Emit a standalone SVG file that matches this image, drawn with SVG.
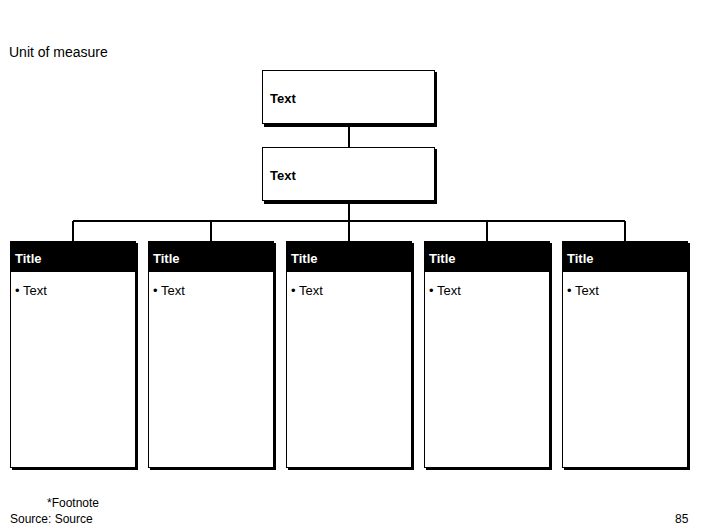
<svg xmlns="http://www.w3.org/2000/svg" width="706" height="529" viewBox="0 0 706 529">
<style>
.b{fill:#fff;stroke:#000;stroke-width:1}
.s{fill:#000}
.t{font-family:"Liberation Sans",Arial,sans-serif;font-size:13px;fill:#000}
.w{font-family:"Liberation Sans",Arial,sans-serif;font-size:13px;font-weight:bold;fill:#fff}
.l{stroke:#000;stroke-width:2;fill:none}
</style>
<rect width="706" height="529" fill="#fff"/>
<text class="t" x="9" y="57" style="font-size:14px">Unit of measure</text>
<g id="connectors">
<path class="l" d="M349 124V147M349 201V221M73 221H625M73 221V241M211 221V241M349 221V241M487 221V241M625 221V241"/>
</g>
<g id="top"><rect class="s" x="264" y="72" width="173" height="55"/><rect class="b" x="262.5" y="70.5" width="172" height="53"/><text class="t" x="270" y="103" font-weight="bold">Text</text></g>
<g id="mid"><rect class="s" x="264" y="149" width="173" height="55"/><rect class="b" x="262.5" y="147.5" width="172" height="53"/><text class="t" x="270" y="180" font-weight="bold">Text</text></g>
<g id="c1"><rect class="s" x="12" y="243" width="126" height="227"/><rect class="b" x="10.5" y="241.5" width="125" height="226"/><rect x="10" y="241" width="126" height="31"/><text class="w" x="15" y="263">Title</text><text class="t" x="15" y="295">• Text</text></g>
<g id="c2"><rect class="s" x="150" y="243" width="126" height="227"/><rect class="b" x="148.5" y="241.5" width="125" height="226"/><rect x="148" y="241" width="126" height="31"/><text class="w" x="153" y="263">Title</text><text class="t" x="153" y="295">• Text</text></g>
<g id="c3"><rect class="s" x="288" y="243" width="126" height="227"/><rect class="b" x="286.5" y="241.5" width="125" height="226"/><rect x="286" y="241" width="126" height="31"/><text class="w" x="291" y="263">Title</text><text class="t" x="291" y="295">• Text</text></g>
<g id="c4"><rect class="s" x="426" y="243" width="126" height="227"/><rect class="b" x="424.5" y="241.5" width="125" height="226"/><rect x="424" y="241" width="126" height="31"/><text class="w" x="429" y="263">Title</text><text class="t" x="429" y="295">• Text</text></g>
<g id="c5"><rect class="s" x="564" y="243" width="126" height="227"/><rect class="b" x="562.5" y="241.5" width="125" height="226"/><rect x="562" y="241" width="126" height="31"/><text class="w" x="567" y="263">Title</text><text class="t" x="567" y="295">• Text</text></g>
<text class="t" x="47" y="507" style="font-size:12px">*Footnote</text>
<text class="t" x="10" y="523" style="font-size:12px">Source: Source</text>
<text class="t" x="675" y="523" style="font-size:12px">85</text>
</svg>
